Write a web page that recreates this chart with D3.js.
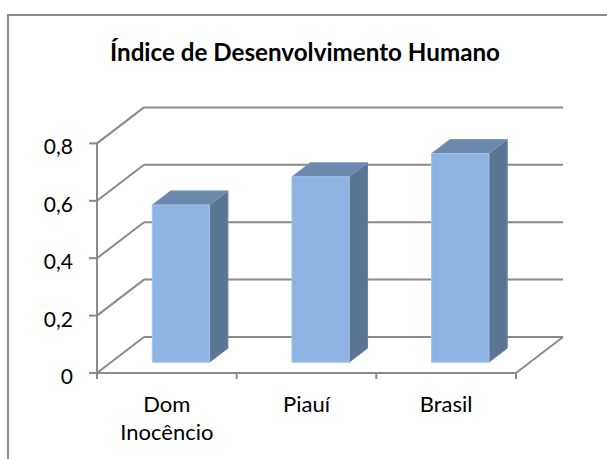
<!DOCTYPE html>
<html>
<head>
<meta charset="utf-8">
<script src="https://cdn.jsdelivr.net/npm/d3@7"></script>
<style>
  html, body { margin: 0; padding: 0; background: #fff; }
  svg { display: block; }
  text { font-family: Lato, "Open Sans", sans-serif; fill: #000; }
</style>
</head>
<body>
<script>
// Índice de Desenvolvimento Humano — 3D column chart
const categories = ["Dom Inocêncio", "Piauí", "Brasil"];
const idhValues = [0.548, 0.646, 0.727];
const yTicks = [0, 0.2, 0.4, 0.6, 0.8];
const chartTitle = "Índice de Desenvolvimento Humano";

const W = 607, H = 459;
const svg = d3.select("body").append("svg").attr("width", W).attr("height", H);

// Oblique projection: z = 0 is the front plane, z = 1 the back wall
const DX = 47, DY = -36;
const proj = (x, y, z) => [x + DX * z, y + DY * z];

const x = d3.scaleBand().domain(categories).range([97, 516]).padding(0);
const y = d3.scaleLinear().domain([0, 0.8]).range([373, 143.4]);
const fmt = d3.formatLocale({ decimal: ",", thousands: ".", grouping: [3], currency: ["R$", ""] }).format("~g");

const gridColor = "#8a8a8a";
const line = d3.line();

// Outer frame
svg.append("path")
  .attr("d", `M8,${H} V15 H${W}`)
  .attr("fill", "none").attr("stroke", "#8c8c8c").attr("stroke-width", 2);

// Title
svg.append("text")
  .attr("x", 305).attr("y", 61)
  .attr("text-anchor", "middle")
  .style("font-weight", "bold").style("font-size", "24.2px")
  .text(chartTitle);

const walls = svg.append("g").attr("fill", "none").attr("stroke", gridColor).attr("stroke-width", 2);
const [xL, xR] = x.range();

// Back wall gridlines and side wall diagonals
yTicks.forEach(t => {
  walls.append("path").attr("d", line([proj(xL, y(t), 1), proj(xR, y(t), 1)]));
  walls.append("path").attr("d", line([proj(xL, y(t), 0), proj(xL, y(t), 1)]));
});
// Right edge of the floor
walls.append("path").attr("d", line([proj(xR, y(0), 0), proj(xR, y(0), 1)]));

// Front axes
walls.append("path").attr("d", line([[xL, y(0)], [xR, y(0)]]));
walls.append("path").attr("d", line([[xL, y(0.8)], [xL, y(0)]]));

// Y ticks and labels
yTicks.forEach(t => {
  walls.append("path").attr("d", line([[xL - 8, y(t)], [xL, y(t)]]));
  svg.append("text")
    .attr("x", 73).attr("y", y(t) + 2.5)
    .attr("text-anchor", "end").attr("dominant-baseline", "central")
    .style("font-size", "21px")
    .text(fmt(t));
});

// X ticks at category boundaries
const bounds = categories.map(c => x(c)).concat([xR]);
bounds.forEach(b => walls.append("path").attr("d", line([[b, y(0)], [b, y(0) + 6]])));

// Category labels (wrapped on spaces)
categories.forEach(c => {
  const t = svg.append("text")
    .attr("x", x(c) + x.bandwidth() / 2).attr("y", 412)
    .attr("text-anchor", "middle")
    .style("font-size", "22px");
  c.split(" ").forEach((w, i) => {
    t.append("tspan").attr("x", x(c) + x.bandwidth() / 2).attr("dy", i === 0 ? 0 : 28).text(w);
  });
});

// 3D bars
const zF = 0.3, zB = 0.69, barFrac = 0.41;
const bars = svg.append("g");
categories.forEach((c, i) => {
  const v = idhValues[i];
  const cx = x(c) + x.bandwidth() / 2;
  const w = x.bandwidth() * barFrac;
  const x0 = cx - w / 2, x1 = cx + w / 2;
  const yt = y(v), yb = y(0);
  const g = bars.append("g").attr("stroke-width", 1).attr("stroke-linejoin", "round");
  // side
  g.append("path")
    .attr("d", line([proj(x1, yt, zF), proj(x1, yt, zB), proj(x1, yb, zB), proj(x1, yb, zF)]) + "Z")
    .attr("fill", "#5b7595").attr("stroke", "#6983a3");
  // top
  g.append("path")
    .attr("d", line([proj(x0, yt, zF), proj(x1, yt, zF), proj(x1, yt, zB), proj(x0, yt, zB)]) + "Z")
    .attr("fill", "#6b88ad").attr("stroke", "#7d98bb");
  // front
  g.append("path")
    .attr("d", line([proj(x0, yt, zF), proj(x1, yt, zF), proj(x1, yb, zF), proj(x0, yb, zF)]) + "Z")
    .attr("fill", "#8db3e2").attr("stroke", "#a3c2ea");
});
</script>
</body>
</html>
